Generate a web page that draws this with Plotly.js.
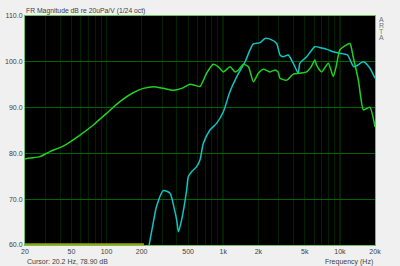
<!DOCTYPE html>
<html>
<head>
<meta charset="utf-8">
<script src="https://cdn.plot.ly/plotly-3.0.1.min.js"></script>
<style>html,body{margin:0;padding:0;background:#f0f0f0;}#chart{width:400px;height:266px;}</style>
</head>
<body>
<div id="chart"></div>
<script>
// Green response (Hz, dB)
var greenFreq = [20,22,26.9,32.7,42.6,59.2,77,100,130,169,207,253,307,374,440,518,570,632,720,822,910,1003,1143,1262,1350,1490,1644,1814,2000,2205,2518,2780,2950,3070,3500,3980,4540,5190,5700,6100,6300,6980,7960,8770,9300,10000,11400,12200,13000,14400,15900,17000,18100,20000];
var greenDb   = [78.8,79.0,79.3,80.4,81.6,84.0,86.2,88.75,91.3,93.25,94.2,94.55,94.2,93.8,94.2,95.1,94.9,94.6,97.5,99.45,98.9,97.8,98.9,97.8,98.2,99.45,98.9,95.65,97.5,98.35,97.8,98.2,97.8,96.4,96.0,97.3,97.5,97.8,99.0,100.4,99.3,97.8,99.7,96.8,99.0,102.6,103.7,104.0,101.1,96.0,89.5,89.8,90.1,85.8];
// Cyan response (Hz, dB)
var cyanFreq = [225,232,250,268,307,350,380,399,413,440,486,502,536,592,632,676,770,880,1003,1143,1307,1540,1696,1814,2070,2280,2600,2870,3070,3270,3610,3980,4390,4540,5190,6100,7000,7960,8770,9800,11600,13200,15900,18100,20000];
var cyanDb   = [57,60,64.5,68.4,71.9,71.3,68,65.5,62.9,65.5,72.0,74.9,76.0,77.1,78.55,82.2,85.1,86.6,89.1,93.5,96.75,100.0,102.6,103.9,104.2,105.1,104.8,104.0,101.5,101.1,101.5,99.7,97.5,99.7,101.1,103.3,103.0,102.6,102.2,101.9,101.5,98.9,100.0,98.6,96.4];
// Olive floor trace
var oliveFreq = [20,209];
var oliveDb = [60.15,60.15];

var xGridVals = [20,30,40,50,60,70,80,90,100,200,300,400,500,600,700,800,900,1000,2000,3000,4000,5000,6000,7000,8000,9000,10000,20000];
var xLabelMap = {20:'20',50:'50',100:'100',200:'200',500:'500',1000:'1k',2000:'2k',5000:'5k',10000:'10k',20000:'20k'};
var majorGridVals = [100,1000,10000];
var yTickVals = [60,70,80,90,100,110];

var xGridText = xGridVals.map(function(v){ return xLabelMap[v] || ''; });

var FONT = 'Liberation Sans, Arial, sans-serif';
var traces = [
  {x: oliveFreq, y: oliveDb, mode:'lines', line:{color:'#a0a000', width:2.2}, hoverinfo:'skip', xaxis:'x', yaxis:'y'},
  {x: cyanFreq, y: cyanDb, mode:'lines', line:{color:'#10c4c4', width:1.5, shape:'spline', smoothing:0.6}, xaxis:'x', yaxis:'y'},
  {x: greenFreq, y: greenDb, mode:'lines', line:{color:'#22d022', width:1.5, shape:'spline', smoothing:0.6}, xaxis:'x', yaxis:'y'}
];
var xr = [Math.log10(20), Math.log10(20000)];
var shapes = majorGridVals.map(function(v){
  return {type:'line', xref:'x', yref:'paper', x0:v, x1:v, y0:0, y1:1, line:{color:'#006a00', width:1}, layer:'below'};
});
var layout = {
  width:400, height:266,
  margin:{l:25, r:25, t:16, b:21},
  paper_bgcolor:'#f0f0f0', plot_bgcolor:'#000000',
  showlegend:false,
  font:{family:FONT, size:7, color:'#404040'},
  xaxis:{type:'log', range:xr, tickmode:'array', tickvals:xGridVals, ticktext:xGridText, showgrid:true, gridcolor:'rgb(0,34,0)', gridwidth:1, zeroline:false, ticks:'',
    showline:true, mirror:true, linecolor:'#70c060', linewidth:1, tickfont:{family:FONT, size:7, color:'#404040'}},
  yaxis:{range:[60,110], tickmode:'array', tickvals:yTickVals, tickformat:'.1f', showgrid:true, gridcolor:'#006400', gridwidth:1, zeroline:false, ticks:'',
    showline:true, mirror:true, linecolor:'#70c060', linewidth:1, tickfont:{family:FONT, size:7, color:'#404040'}},
  shapes: shapes,
  annotations:[
    {xref:'paper', yref:'paper', x:0, y:1, xanchor:'left', yanchor:'bottom', text:'FR Magnitude dB re 20uPa/V (1/24 oct)', showarrow:false, font:{family:FONT, size:6.8, color:'#404040'}, xshift:-1, yshift:-1},
    {xref:'paper', yref:'paper', x:0, y:0, xanchor:'left', yanchor:'top', text:'Cursor: 20.2 Hz, 78.90 dB', showarrow:false, font:{family:FONT, size:7, color:'#404040'}, yshift:-11},
    {xref:'paper', yref:'paper', x:1, y:0, xanchor:'right', yanchor:'top', text:'Frequency (Hz)', showarrow:false, font:{family:FONT, size:7, color:'#404040'}, yshift:-11},
    {xref:'paper', yref:'paper', x:1, y:1, xanchor:'left', yanchor:'top', text:'A', showarrow:false, font:{family:FONT, size:7, color:'#707070'}, xshift:2, yshift:2},
    {xref:'paper', yref:'paper', x:1, y:1, xanchor:'left', yanchor:'top', text:'R', showarrow:false, font:{family:FONT, size:7, color:'#707070'}, xshift:2, yshift:-4},
    {xref:'paper', yref:'paper', x:1, y:1, xanchor:'left', yanchor:'top', text:'T', showarrow:false, font:{family:FONT, size:7, color:'#50a050'}, xshift:2, yshift:-10},
    {xref:'paper', yref:'paper', x:1, y:1, xanchor:'left', yanchor:'top', text:'A', showarrow:false, font:{family:FONT, size:7, color:'#707070'}, xshift:2, yshift:-16}
  ]
};
Plotly.newPlot('chart', traces, layout, {staticPlot:true, displayModeBar:false});
</script>
</body>
</html>
